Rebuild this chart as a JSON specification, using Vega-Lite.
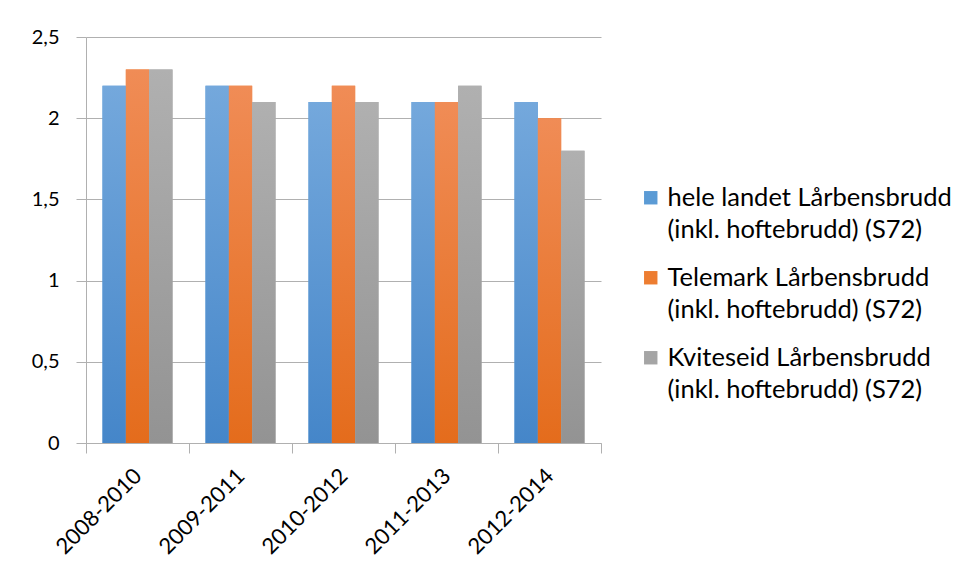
{
  "$schema": "https://vega.github.io/schema/vega-lite/v6.json",
  "width": 515,
  "height": 406,
  "autosize": "none",
  "padding": {"left": 86, "top": 37, "right": 361, "bottom": 133},
  "background": "white",
  "config": {
    "view": {"stroke": null},
    "font": "Lato",
    "axis": {"labelFont": "Lato", "labelFontSize": 20, "labelColor": "#000000", "domainColor": "#b0b0b0", "tickColor": "#b0b0b0", "gridColor": "#b0b0b0", "tickSize": 10},
    "legend": {"labelFont": "Lato", "labelFontSize": 25.5, "labelColor": "#000000"},
    "style": {"guide-label": {"lineHeight": 32}}
  },
  "data": {
    "values": [
      {"periode": "2008-2010", "serie": "hele landet Lårbensbrudd (inkl. hoftebrudd) (S72)", "verdi": 2.2},
      {"periode": "2008-2010", "serie": "Telemark Lårbensbrudd (inkl. hoftebrudd) (S72)", "verdi": 2.3},
      {"periode": "2008-2010", "serie": "Kviteseid Lårbensbrudd (inkl. hoftebrudd) (S72)", "verdi": 2.3},
      {"periode": "2009-2011", "serie": "hele landet Lårbensbrudd (inkl. hoftebrudd) (S72)", "verdi": 2.2},
      {"periode": "2009-2011", "serie": "Telemark Lårbensbrudd (inkl. hoftebrudd) (S72)", "verdi": 2.2},
      {"periode": "2009-2011", "serie": "Kviteseid Lårbensbrudd (inkl. hoftebrudd) (S72)", "verdi": 2.1},
      {"periode": "2010-2012", "serie": "hele landet Lårbensbrudd (inkl. hoftebrudd) (S72)", "verdi": 2.1},
      {"periode": "2010-2012", "serie": "Telemark Lårbensbrudd (inkl. hoftebrudd) (S72)", "verdi": 2.2},
      {"periode": "2010-2012", "serie": "Kviteseid Lårbensbrudd (inkl. hoftebrudd) (S72)", "verdi": 2.1},
      {"periode": "2011-2013", "serie": "hele landet Lårbensbrudd (inkl. hoftebrudd) (S72)", "verdi": 2.1},
      {"periode": "2011-2013", "serie": "Telemark Lårbensbrudd (inkl. hoftebrudd) (S72)", "verdi": 2.1},
      {"periode": "2011-2013", "serie": "Kviteseid Lårbensbrudd (inkl. hoftebrudd) (S72)", "verdi": 2.2},
      {"periode": "2012-2014", "serie": "hele landet Lårbensbrudd (inkl. hoftebrudd) (S72)", "verdi": 2.1},
      {"periode": "2012-2014", "serie": "Telemark Lårbensbrudd (inkl. hoftebrudd) (S72)", "verdi": 2.0},
      {"periode": "2012-2014", "serie": "Kviteseid Lårbensbrudd (inkl. hoftebrudd) (S72)", "verdi": 1.8}
    ]
  },
  "encoding": {
    "x": {
      "field": "periode", "type": "nominal", "title": null,
      "scale": {"paddingInner": 0, "paddingOuter": 0},
      "axis": {"labelAngle": -45, "tickBand": "extent", "labelPadding": 19, "labelFontSize": 22, "grid": false, "labelAlign": "right", "labelBaseline": "middle"}
    },
    "xOffset": {
      "field": "serie", "type": "nominal",
      "sort": ["hele landet Lårbensbrudd (inkl. hoftebrudd) (S72)", "Telemark Lårbensbrudd (inkl. hoftebrudd) (S72)", "Kviteseid Lårbensbrudd (inkl. hoftebrudd) (S72)"],
      "scale": {"paddingInner": 0, "paddingOuter": 0.707}
    },
    "y": {
      "field": "verdi", "type": "quantitative", "title": null,
      "scale": {"domain": [0, 2.5]},
      "axis": {"values": [0, 0.5, 1, 1.5, 2, 2.5], "labelExpr": "replace(format(datum.value, '~g'), '.', ',')", "labelPadding": 17, "domain": true}
    }
  },
  "layer": [
    {
      "mark": {"type": "bar"},
      "encoding": {
        "color": {
          "field": "serie", "type": "nominal", "title": null,
          "scale": {
            "domain": ["hele landet Lårbensbrudd (inkl. hoftebrudd) (S72)", "Telemark Lårbensbrudd (inkl. hoftebrudd) (S72)", "Kviteseid Lårbensbrudd (inkl. hoftebrudd) (S72)"],
            "range": ["#5b9bd5", "#ed7d31", "#a5a5a5"]
          },
          "legend": {
            "orient": "none", "legendX": 552, "legendY": 148,
            "symbolType": "square", "symbolSize": 180, "symbolStrokeWidth": 0, "symbolOpacity": 1,
            "labelExpr": "split(replace(datum.label, ' (inkl.', '|(inkl.'), '|')",
            "labelLimit": 400,
            "rowPadding": 21, "labelOffset": 4
          }
        }
      }
    },
    {
      "mark": {"type": "bar"},
      "encoding": {
        "fill": {
          "condition": [
            {"test": "indexof(datum.serie, 'hele') === 0", "value": {"gradient": "linear", "x1": 0, "y1": 0, "x2": 0, "y2": 1, "stops": [{"offset": 0, "color": "#74a8dc"}, {"offset": 1, "color": "#4586c9"}]}},
            {"test": "indexof(datum.serie, 'Telemark') === 0", "value": {"gradient": "linear", "x1": 0, "y1": 0, "x2": 0, "y2": 1, "stops": [{"offset": 0, "color": "#f08c56"}, {"offset": 1, "color": "#e46c1c"}]}}
          ],
          "value": {"gradient": "linear", "x1": 0, "y1": 0, "x2": 0, "y2": 1, "stops": [{"offset": 0, "color": "#b0b0b0"}, {"offset": 1, "color": "#939393"}]}
        }
      }
    }
  ]
}
